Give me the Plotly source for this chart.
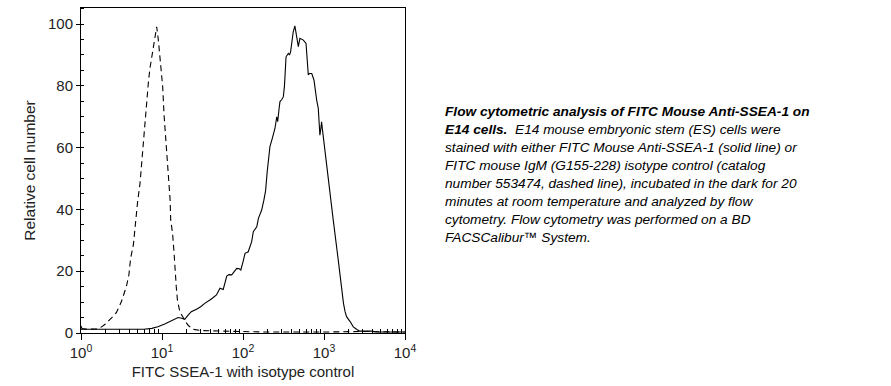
import plotly.graph_objects as go

# Solid line: FITC Mouse Anti-SSEA-1
solid_x = [1.0, 1.03, 1.2, 2, 4, 6, 7.5, 8.9, 10.8, 13, 15.8, 17.5, 19.1, 21, 23, 27, 30, 33.7, 36, 39,
           43, 47, 52, 57, 63, 67, 72.5, 78, 83.7, 90, 94, 100, 106, 116, 122, 128, 134, 141, 148, 155,
           162, 170, 181, 190, 199, 207, 215, 230, 248, 261, 268, 280, 286, 300, 315, 325, 340, 363, 375,
           387, 400, 417, 437, 452, 469, 482, 504, 530, 556, 600, 620, 640, 660, 680, 706, 752, 790, 812,
           850, 890, 912, 934, 955, 980, 1000, 1070, 1130, 1300, 1500, 1650, 1740, 1820, 1900, 2100, 2300,
           2520, 2760, 2920, 3500, 3890, 4500, 6000, 10000]
solid_y = [2.3, 1.4, 1.2, 1.2, 1.2, 1.2, 1.5, 2.0, 2.9, 3.9, 5.0, 4.8, 4.4, 5.8, 6.9, 7.8, 8.5, 9.6, 10.0, 10.7,
           11.5, 12.3, 14.5, 14.1, 18.4, 18.9, 18.8, 19.8, 20.9, 20.8, 20.4, 23.0, 25.8, 26.3, 27.8, 29.6, 32.8, 33.5, 34.4, 37.1,
           38.5, 39.8, 43, 46, 52.2, 56, 60.3, 63, 66.2, 70, 68.4, 73, 74.9, 75.5, 76.5, 80, 89.4, 90.5, 90,
           91, 94.8, 97.5, 99.4, 97, 93.2, 92.7, 95.4, 95.2, 94.8, 93.7, 89, 83.5, 84, 84, 84, 81.9, 77, 75.4,
           72.7, 64, 66, 68.4, 66, 63.5, 61.9, 53.8, 49.5, 36.6, 23.6, 13.9, 9.6, 6.9, 5.3, 3.7, 2.0,
           1.2, 0.6, 0.6, 0.6, 0.6, 0.3, 0.3, 0.3]

# Dashed line: isotype control
dash_x = [1.0, 1.3, 1.6, 1.8, 2.0, 2.4, 2.73, 3.15, 3.63, 3.9, 4.1, 4.43, 4.77, 5.0, 5.35, 5.7, 5.9, 6.2, 6.5,
          6.8, 7.1, 7.7, 8.2, 8.6, 9.0, 9.45, 9.9, 10.2, 10.6, 11.1, 11.6, 12.0, 12.6, 12.8, 13.5, 14.1, 14.6,
          15.0, 15.5, 16.6, 19, 21, 24, 30, 40, 100, 200, 1000, 3000, 10000]
dash_y = [1.2, 1.2, 1.3, 2.0, 2.9, 5.0, 6.6, 10.1, 15, 18.8, 24.2, 28.5, 37.6, 42.5, 48.4, 57.6, 62.5, 70, 77,
          81.3, 85.7, 91, 96, 99.1, 95, 89.4, 84.6, 79.7, 70.6, 63, 57, 50.6, 43, 36.6, 32.3, 25.8, 18.2,
          15, 10.7, 6.9, 4.2, 2.5, 1.2, 0.8, 0.7, 0.5, 0.3, 0.3, 0.5, 0.3]

x_tickvals = [1, 10, 100, 1000, 10000]
x_ticktext = ["10<sup>0</sup>", "10<sup>1</sup>", "10<sup>2</sup>", "10<sup>3</sup>", "10<sup>4</sup>"]
x_minor = [m * 10 ** d for d in range(4) for m in range(2, 10)]
y_tickvals = [0, 20, 40, 60, 80, 100]

caption_lines = [
    "<b><i>Flow cytometric analysis of FITC Mouse Anti-SSEA-1 on</i></b>",
    "<b><i>E14 cells.</i></b>&nbsp; <i>E14 mouse embryonic stem (ES) cells were</i>",
    "<i>stained with either FITC Mouse Anti-SSEA-1 (solid line) or</i>",
    "<i>FITC mouse IgM (G155-228) isotype control (catalog</i>",
    "<i>number 553474, dashed line), incubated in the dark for 20</i>",
    "<i>minutes at room temperature and analyzed by flow</i>",
    "<i>cytometry. Flow cytometry was performed on a BD</i>",
    "<i>FACSCalibur™ System.</i>",
]

fig = go.Figure()
fig.add_trace(go.Scatter(x=dash_x, y=dash_y, mode="lines",
                         line=dict(color="black", width=1.1, dash="6px,4px"), showlegend=False))
fig.add_trace(go.Scatter(x=solid_x, y=solid_y, mode="lines",
                         line=dict(color="black", width=1.1), showlegend=False))

L, R, T, B = 81, 405, 8, 333
W, H = 891, 386
fig.update_layout(
    width=W, height=H,
    margin=dict(l=L, r=W - R, t=T, b=H - B, pad=0, autoexpand=False),
    paper_bgcolor="white", plot_bgcolor="white",
    font=dict(family="Liberation Sans, Arial, sans-serif", color="black", size=15),
    xaxis=dict(type="log", range=[0, 4], tickvals=x_tickvals, ticktext=x_ticktext, automargin=False,
               ticks="outside", ticklen=6, tickwidth=1, tickcolor="black",
               showline=True, linecolor="black", linewidth=1, mirror=True,
               showgrid=False, zeroline=False,
               minor=dict(tickvals=x_minor, ticks="inside", ticklen=4, tickcolor="black", showgrid=False),
               tickfont=dict(size=15, color="#222"),
               title=dict(text="FITC SSEA-1 with isotype control", font=dict(size=15, color="#222"), standoff=6)),
    yaxis=dict(range=[0, 105.2], tickvals=y_tickvals, automargin=False,
               ticks="outside", ticklen=4, tickwidth=1, tickcolor="black",
               showline=True, linecolor="black", linewidth=1, mirror=True,
               showgrid=False, zeroline=False,
               minor=dict(dtick=5, ticks="inside", ticklen=3, tickcolor="black", showgrid=False),
               tickfont=dict(size=15, color="#222"),
               title=dict(text="Relative cell number", font=dict(size=15.5, color="#222"), standoff=8)),
)

line_y0 = 112
line_step = 17.9
for i, txt in enumerate(caption_lines):
    py = line_y0 + i * line_step
    fig.add_annotation(text=txt, xref="paper", yref="paper",
                       x=(443 - L) / (R - L), y=(B - py) / (B - T),
                       xanchor="left", yanchor="middle", showarrow=False, align="left",
                       font=dict(family="Liberation Sans, Arial, sans-serif", size=13.7, color="black"))

fig.write_html("out.html", config={"displayModeBar": False},
               post_script="document.body.style.margin='0';document.body.style.padding='0';")
